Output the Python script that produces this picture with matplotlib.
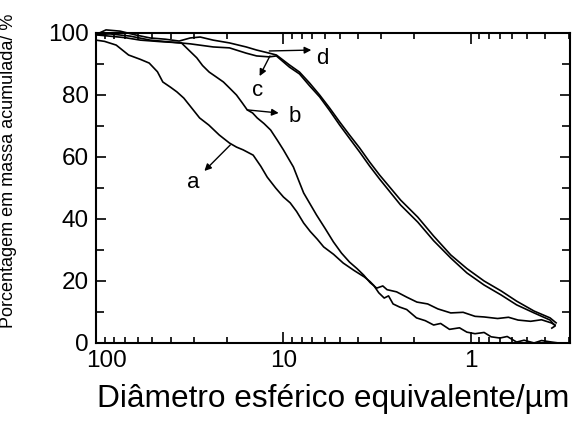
import matplotlib.pyplot as plt
import matplotlib.transforms as mtransforms
from matplotlib.ticker import LogLocator, MultipleLocator, FixedLocator, NullFormatter

plt.rcParams['font.family'] = ['Liberation Sans', 'DejaVu Sans']

# Cumulative mass (%) vs. equivalent spherical diameter (um)
d_a = [100, 90, 78, 67, 58, 52, 47, 44, 40, 37, 34, 31.8, 28, 25, 22, 19.4,
       17.8, 16.4, 14.5, 13.2, 12.2, 11, 10, 9.2, 8.5, 7.8, 7.2, 6.6, 6.1,
       5.4, 4.8, 4.2, 3.7, 3.45, 3.3, 3.1, 2.9, 2.75, 2.6, 2.4, 2.2, 1.95,
       1.75, 1.58, 1.45, 1.3, 1.15, 1.05, 0.95, 0.85, 0.78, 0.70, 0.64, 0.57,
       0.52, 0.46, 0.42, 0.37, 0.34]
pct_a = [97.7, 97.3, 96.1, 92.9, 91.5, 90.3, 87.5, 84.2, 82.5, 81, 79, 76.8,
         72.6, 70.3, 67.1, 64.5, 63.2, 62.3, 60.6, 57, 53.5, 50, 47.1, 45.2,
         42.4, 38.7, 36, 33.5, 31, 28.6, 25.8, 23.4, 21.3, 19.8, 18.6, 16.2,
         14.5, 15.2, 12.6, 11.6, 10.8, 8.1, 7.2, 5.8, 6.3, 4.4, 4.9, 3.5, 3.0,
         3.4, 2.0, 1.6, 2.1, 0.3, 0.9, 0, 0.8, 0.3, 0]

d_b = [100, 85, 70, 58, 45, 35, 32, 29, 27, 24.9, 22.8, 20.9, 19.2, 17.8,
       16.6, 15.6, 14.6, 13.8, 12.7, 11.7, 10.8, 10, 9.4, 8.85, 8.3, 7.8, 7.2,
       6.66, 6, 5.41, 4.9, 4.44, 4.05, 3.73, 3.45, 3.18, 2.95, 2.8, 2.49, 2.2,
       1.94, 1.7, 1.5, 1.28, 1.1, 0.95, 0.85, 0.72, 0.63, 0.56, 0.48, 0.42,
       0.373, 0.355]
pct_b = [99.4, 99.0, 98.5, 97.7, 97.2, 96.8, 94.5, 92, 89.5, 87.4, 85.8, 84.2,
         82, 80, 77.5, 75.2, 74.2, 72.6, 70.8, 68.7, 65.5, 62.3, 59.5, 56.8,
         52.5, 48.4, 44.8, 41.3, 37, 32.6, 29, 26.1, 24, 21.9, 19.5, 17.7,
         18.4, 17.2, 16.5, 14.8, 13.2, 12.6, 11.0, 9.7, 9.9, 8.6, 8.4, 7.9,
         8.3, 7.4, 7.0, 7.5, 6.5, 5.8]

d_c = [100, 84, 65.8, 51.4, 40.2, 31.4, 23.7, 19.4, 15.8, 13.9, 11.9, 10.9,
       9.29, 8.21, 7.26, 6.41, 5.67, 5.01, 4.44, 3.92, 3.47, 3.07, 2.37, 1.92,
       1.58, 1.28, 1.05, 0.85, 0.69, 0.57, 0.46, 0.378, 0.355, 0.37]
pct_c = [99.5, 99.7, 99, 97.7, 97.1, 96.5, 95.5, 95.2, 93.5, 92.6, 92.3, 92.6,
         89, 86.8, 83, 79.4, 75, 70.3, 66, 61.6, 57.1, 52.9, 44.5, 39, 33,
         27.4, 22.6, 18.7, 15.5, 12.3, 9.7, 7.4, 5.5, 4.8]

d_d = [100, 88.4, 74.4, 61.8, 51.4, 42.7, 36, 31.4, 27.8, 23.7, 19.4, 15.8,
       13.9, 11.9, 10.9, 9.29, 8.21, 7.26, 6.41, 5.67, 5.01, 4.44, 3.92, 3.47,
       3.07, 2.37, 1.92, 1.58, 1.28, 1.05, 0.85, 0.69, 0.57, 0.46, 0.378,
       0.351]
pct_d = [99.5, 101, 100.6, 99.4, 98.4, 98, 97.4, 98.4, 98.7, 97.7, 96.8, 95.5,
         94.5, 93.5, 92.9, 89.7, 87.4, 83.9, 80, 75.8, 71.3, 67.1, 62.9, 58.4,
         54.2, 46.1, 40.6, 34.5, 28.4, 24, 20, 16.8, 13.5, 10.3, 8.1, 6.5]

# Arrow labels: (text, label position, arrow tail, arrow head)
labels = [
    ('a', (30.3, 51.9), (19.2, 63.9), (26.4, 55.5)),
    ('b', (8.7, 73.2), (15.6, 75.2), (10.6, 74.2)),
    ('c', (13.8, 81.3), (11.8, 92.6), (13.4, 86.1)),
    ('d', (6.2, 91.9), (11.9, 94.2), (7.1, 94.5)),
]

fig = plt.figure(figsize=(5.87, 4.28), dpi=100)
ax = fig.add_axes([0.1635, 0.1986, 0.8075, 0.7243])

for d, p in [(d_a, pct_a), (d_b, pct_b), (d_c, pct_c), (d_d, pct_d)]:
    ax.plot(d, p, color='black', lw=1.2, clip_on=False)

for txt, pos, tail, head in labels:
    ax.annotate('', xy=head, xytext=tail,
                arrowprops=dict(arrowstyle='-|>', color='black', lw=1.0,
                                mutation_scale=10, shrinkA=0, shrinkB=0))
    ax.text(pos[0], pos[1], txt, fontsize=16, ha='center', va='center')

ax.set_xscale('log')
ax.set_xlim(100, 0.296)
ax.set_ylim(0, 100)

ax.xaxis.set_major_locator(FixedLocator([100, 10, 1]))
ax.set_xticklabels(['100', '10', '1'])
ax.xaxis.set_minor_locator(LogLocator(base=10, subs=range(2, 10)))
ax.xaxis.set_minor_formatter(NullFormatter())
ax.yaxis.set_major_locator(MultipleLocator(20))
ax.yaxis.set_minor_locator(MultipleLocator(10))

ax.tick_params(which='both', direction='in', top=True, right=True,
               labelsize=17.5, width=1.2)
ax.tick_params(axis='x', which='major', length=8, pad=5)
ax.tick_params(axis='x', which='minor', length=4)
ax.tick_params(axis='y', which='major', length=7, pad=5)
ax.tick_params(axis='y', which='minor', length=6)
for s in ax.spines.values():
    s.set_linewidth(1.5)

# nudge the "100" label right so it clears the "0" on the y axis
shift = mtransforms.ScaledTranslation(11 / 100, 0, fig.dpi_scale_trans)
lbl100 = ax.get_xticklabels()[0]
lbl100.set_transform(lbl100.get_transform() + shift)

ax.set_xlabel('Diâmetro esférico equivalente/µm', fontsize=22.8, labelpad=9)
ax.set_ylabel('Porcentagem em massa acumulada/ %', fontsize=13)
ax.yaxis.set_label_coords(-0.167, 0.555)

fig.savefig('out.png', dpi=100)
